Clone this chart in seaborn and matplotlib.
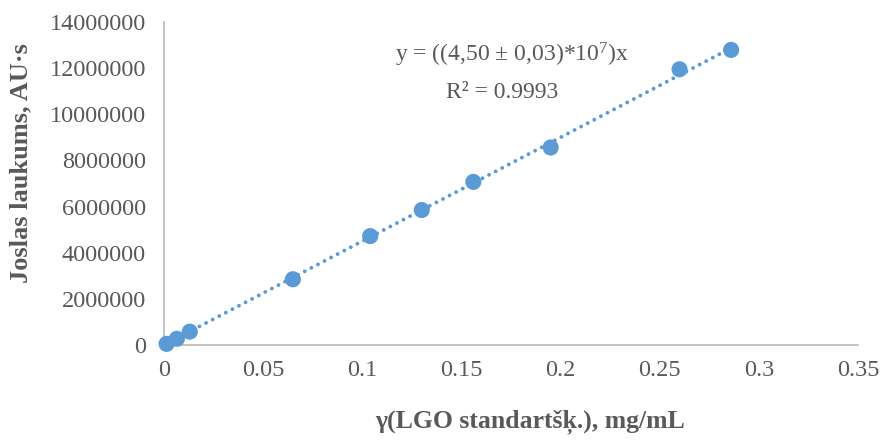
import matplotlib
matplotlib.use("Agg")
import matplotlib.pyplot as plt
import seaborn as sns
import pandas as pd

# Data
conc = [0.0013, 0.0065, 0.013, 0.065, 0.104, 0.13, 0.156, 0.195, 0.26, 0.286]
area = [50000, 270000, 580000, 2850000, 4720000, 5850000, 7070000, 8560000, 11950000, 12790000]
slope = 4.50e7
x_ticks = [0, 0.05, 0.1, 0.15, 0.2, 0.25, 0.3, 0.35]
y_ticks = [0, 2000000, 4000000, 6000000, 8000000, 10000000, 12000000, 14000000]
eq_text = "y = ((4,50 ± 0,03)*10$^{7}$)x"
r2_text = "R² = 0.9993"
x_label = "γ(LGO standartšķ.), mg/mL"
y_label = "Joslas laukums, AU·s"

sns.set_theme(style="white")
plt.rcParams['font.family'] = ['Liberation Serif', 'DejaVu Serif']
plt.rcParams['mathtext.fontset'] = 'custom'
plt.rcParams['mathtext.rm'] = 'Liberation Serif'
plt.rcParams['mathtext.it'] = 'Liberation Serif:italic'

W, H = 881, 443
fig = plt.figure(figsize=(W / 100, H / 100), dpi=100)
left, right, top, bottom = 164, 858, 22, 345
ax = fig.add_axes([left / W, 1 - bottom / H, (right - left) / W, (bottom - top) / H])

blue = "#5B9BD5"
grey_text = "#595959"

df = pd.DataFrame({"conc": conc, "area": area})
trend = pd.DataFrame({"x": [min(conc), max(conc)]})
trend["y"] = trend["x"] * slope

sns.lineplot(data=trend, x="x", y="y", ax=ax, color=blue, linewidth=2.8,
             zorder=2)
ln = ax.lines[-1]
ln.set_linestyle((0, (0.01, 1.9)))
ln.set_dash_capstyle("round")
sns.scatterplot(data=df, x="conc", y="area", ax=ax, color=blue, s=135,
                edgecolor="none", linewidth=0, zorder=3)
for coll in ax.collections:
    coll.set_clip_on(False)

ax.set_xlim(0, 0.35)
ax.set_ylim(0, 14000000)
ax.set_xticks(x_ticks)
ax.set_xticklabels([f"{t:g}" for t in x_ticks])
ax.set_yticks(y_ticks)
ax.set_yticklabels([str(t) for t in y_ticks])
ax.tick_params(axis="both", length=0, labelsize=17.5, colors=grey_text)
ax.tick_params(axis="x", pad=11)
ax.tick_params(axis="y", pad=13)

for s in ["top", "right"]:
    ax.spines[s].set_visible(False)
for s in ["left", "bottom"]:
    ax.spines[s].set_color("#BFBFBF")
    ax.spines[s].set_linewidth(1.3)
    ax.spines[s].set_zorder(1)

ax.set_xlabel(x_label, fontsize=18.5, fontweight="bold", color=grey_text)
ax.set_ylabel(y_label, fontsize=19, fontweight="bold", color=grey_text)
ax.xaxis.label.set_verticalalignment("center")
ax.yaxis.label.set_verticalalignment("center")
ax.xaxis.set_label_coords((530 - left) / (right - left), -(422 - bottom) / (bottom - top))
ax.yaxis.set_label_coords(-(left - 21) / (right - left), (bottom - 163) / (bottom - top))

ax.text((512 - left) / (right - left), (bottom - 55) / (bottom - top), eq_text,
        transform=ax.transAxes, ha="center", va="center", fontsize=17, color=grey_text)
ax.text((502 - left) / (right - left), (bottom - 93) / (bottom - top), r2_text,
        transform=ax.transAxes, ha="center", va="center", fontsize=17, color=grey_text)

fig.savefig("out.png", dpi=100)
